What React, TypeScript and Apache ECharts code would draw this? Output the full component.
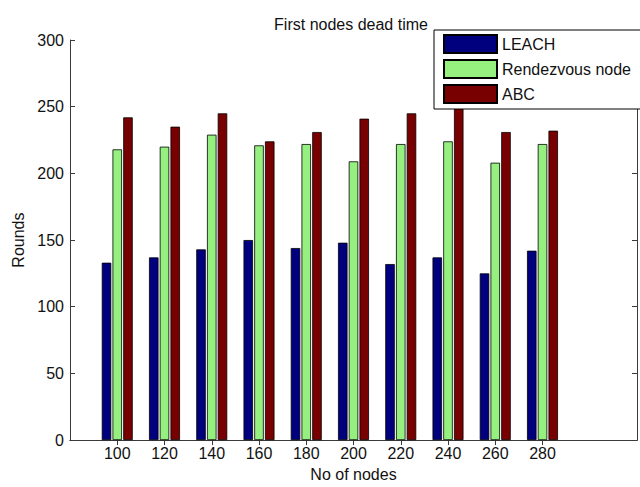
import React, { useEffect, useRef } from "react";
import * as echarts from "echarts";

const categories = ["100", "120", "140", "160", "180", "200", "220", "240", "260", "280"];
const leach = [133, 137, 143, 150, 144, 148, 132, 137, 125, 142];
const rendezvous = [218, 220, 229, 221, 222, 209, 222, 224, 208, 222];
const abc = [242, 235, 245, 224, 231, 241, 245, 258, 231, 232];
const yTicks = { min: 0, max: 300, interval: 50 };

const FONT = "Liberation Sans, Arial, sans-serif";
const FS = 16;

export default function App() {
  const ref = useRef<HTMLDivElement>(null);
  useEffect(() => {
    if (!ref.current) return;
    const chart = echarts.init(ref.current, null, { renderer: "svg" });
    // xlim [0, 12] with categories at 1..10
    const cats = ["", ...categories, "", ""];
    const pad = (arr: number[]) => [null, ...arr, null, null];
    const tickShow = (i: number) => i >= 1 && i <= categories.length;
    const axisLineStyle = { color: "#3a3a3a", width: 1 };
    const barBase = {
      type: "bar" as const,
      barWidth: 9.5,
      barGap: "13%",
      xAxisIndex: 0,
      yAxisIndex: 0,
    };
    chart.setOption({
      animation: false,
      backgroundColor: "#ffffff",
      textStyle: { fontFamily: FONT },
      title: {
        text: "First nodes dead time",
        left: 346,
        top: 11,
        textAlign: "center",
        textStyle: { fontFamily: FONT, fontSize: FS, fontWeight: "normal", color: "#111" },
      },
      legend: {
        orient: "vertical",
        left: 434,
        top: 30,
        itemWidth: 53,
        itemHeight: 18,
        itemGap: 5,
        padding: [4, 30, 5, 9],
        borderColor: "#000",
        borderWidth: 1,
        backgroundColor: "#fff",
        icon: "rect",
        textStyle: { fontFamily: FONT, fontSize: FS, lineHeight: 18, color: "#111" },
        data: ["LEACH", "Rendezvous node", "ABC"],
      },
      grid: { left: 70, right: 0, top: 40, bottom: 41 },
      xAxis: [
        {
          type: "category",
          data: cats,
          boundaryGap: false,
          position: "bottom",
          name: "No of nodes",
          nameLocation: "middle",
          nameGap: 21,
          nameTextStyle: { fontFamily: FONT, fontSize: FS, color: "#111" },
          axisLine: { lineStyle: axisLineStyle },
          axisTick: { inside: true, length: 5, interval: tickShow, lineStyle: axisLineStyle },
          axisLabel: { interval: 0, fontFamily: FONT, fontSize: FS, color: "#111", margin: 5 },
          splitLine: { show: false },
        },
        {
          type: "category",
          data: cats,
          boundaryGap: false,
          position: "top",
          axisLine: { lineStyle: axisLineStyle },
          axisTick: { inside: true, length: 5, interval: tickShow, lineStyle: axisLineStyle },
          axisLabel: { show: false },
          splitLine: { show: false },
        },
      ],
      yAxis: [
        {
          type: "value",
          ...yTicks,
          position: "left",
          name: "Rounds",
          nameLocation: "middle",
          nameGap: 44,
          nameTextStyle: { fontFamily: FONT, fontSize: FS, color: "#111" },
          axisLine: { show: true, lineStyle: axisLineStyle },
          axisTick: { show: true, inside: true, length: 5, lineStyle: axisLineStyle },
          axisLabel: { fontFamily: FONT, fontSize: FS, color: "#111", margin: 6 },
          splitLine: { show: false },
        },
        {
          type: "value",
          ...yTicks,
          position: "right",
          axisLine: { show: true, lineStyle: axisLineStyle },
          axisTick: { show: true, inside: true, length: 5, lineStyle: axisLineStyle },
          axisLabel: { show: false },
          splitLine: { show: false },
        },
      ],
      series: [
        {
          ...barBase,
          name: "LEACH",
          data: pad(leach),
          itemStyle: { color: "#00007f", borderColor: "#000", borderWidth: 0.8 },
        },
        {
          ...barBase,
          name: "Rendezvous node",
          data: pad(rendezvous),
          itemStyle: { color: "#96f080", borderColor: "#000", borderWidth: 0.8 },
        },
        {
          ...barBase,
          name: "ABC",
          data: pad(abc),
          itemStyle: { color: "#780000", borderColor: "#000", borderWidth: 0.8 },
        },
      ],
    });
    return () => chart.dispose();
  }, []);
  return (
    <div
      ref={ref}
      style={{ position: "absolute", left: 0, top: 0, width: 640, height: 487 }}
    />
  );
}
